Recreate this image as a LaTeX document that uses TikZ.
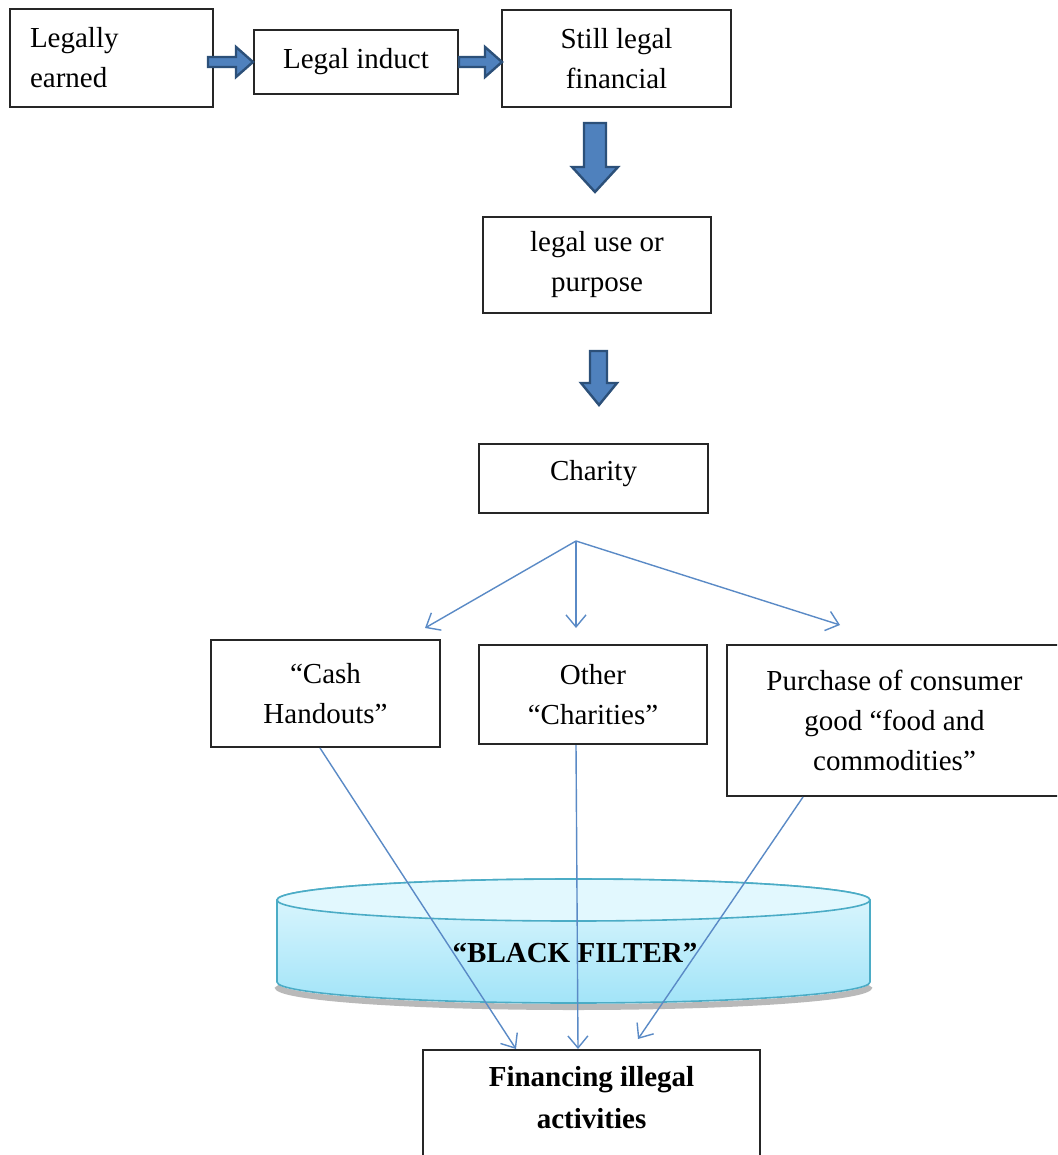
\documentclass[tikz,border=0pt]{standalone}
\usepackage{fontspec}
\setmainfont{Liberation Serif}
\usetikzlibrary{arrows.meta,calc}
\definecolor{arrdark}{HTML}{2C5079}
\definecolor{arrfill}{HTML}{4F81BD}
\definecolor{linkblue}{HTML}{5A8AC6}
\definecolor{cyltop}{HTML}{E2F8FE}
\definecolor{cylbot}{HTML}{A2E4F8}
\definecolor{cyledge}{HTML}{4BACC6}
\tikzset{
  box/.style={draw=black!85, line width=1pt, fill=white, align=center, inner sep=0pt,
    font=\fontsize{14.5}{20}\selectfont},
  link/.style={draw=linkblue, line width=0.7pt, -{Straight Barb[length=6pt,width=10pt]}},
  blockarrow/.style={draw=arrdark, fill=arrfill, line width=1.2pt, line join=miter},
}
\begin{document}
\begin{tikzpicture}[x=0.5pt,y=-0.5pt]
\clip (0,0) rectangle (1057,1155);
\fill[white] (0,0) rectangle (1057,1155);

% boxes
\node[box, minimum width=101.5pt, minimum height=49pt, align=left, text width=81.5pt] (b1) at (111.5,58) {Legally\\earned};
\node[box, minimum width=102pt, minimum height=32pt] (b2) at (356,62) {Legal induct};
\node[box, minimum width=114.5pt, minimum height=48.5pt] (b3) at (616.5,58.5) {Still legal\\financial};
\node[box, minimum width=114pt, minimum height=48pt] (b4) at (597,265) {legal use or\\purpose};
\node[box, minimum width=114.5pt, minimum height=34.5pt] (b5) at (593.5,478.5) {Charity\rule[-8pt]{0pt}{0pt}};
\node[box, minimum width=114.5pt, minimum height=53.5pt] (b6) at (325.5,693.5) {“Cash\\Handouts”};
\node[box, minimum width=114pt, minimum height=49.5pt] (b7) at (593,694.5) {Other\\“Charities”};
\node[box, minimum width=167.5pt, minimum height=75.5pt] (b8) at (894.5,720.5) {Purchase of consumer\\good “food and\\commodities”};

% block arrows
\path[blockarrow] ($(b1.east |- b2.west)+(-6,-5)$) -- ($(b2.west)+(-17,-5)$) -- ($(b2.west)+(-17,-15)$)
  -- ($(b2.west)+(0,0)$) -- ($(b2.west)+(-17,15)$) -- ($(b2.west)+(-17,5)$) -- ($(b1.east |- b2.west)+(-6,5)$) -- cycle;
\path[blockarrow] ($(b2.east)+(0,-5)$) -- ($(b3.west |- b2.east)+(-16,-5)$) -- ($(b3.west |- b2.east)+(-16,-15)$)
  -- ($(b3.west |- b2.east)+(1,0)$) -- ($(b3.west |- b2.east)+(-16,15)$) -- ($(b3.west |- b2.east)+(-16,5)$) -- ($(b2.east)+(0,5)$) -- cycle;
\path[blockarrow] (584,123) -- (606,123) -- (606,167) -- (618,167) -- (595,192) -- (572,167) -- (584,167) -- cycle;
\path[blockarrow] (590,351) -- (607,351) -- (607,383) -- (617,383) -- (599,405) -- (581,383) -- (590,383) -- cycle;

% branches from charity
\coordinate (br) at (576,541);
\coordinate (e1) at (425,628);
\coordinate (e2) at (576,628);
\coordinate (e3) at (840,625);
\draw[link] (br) -- (e1);
\draw[link] (br) -- (e2);
\draw[link] (br) -- (e3);

% filter cylinder
\draw[gray!55, line width=3pt] (277,986) arc[start angle=180, end angle=0, x radius=296.5, y radius=21];
\shade[top color=cyltop, bottom color=cylbot, draw=cyledge, line width=0.8pt]
  (277,900) -- (277,982) arc[start angle=180, end angle=0, x radius=296.5, y radius=21]
  -- (870,900) arc[start angle=0, end angle=-180, x radius=296.5, y radius=21] -- cycle;
\draw[cyledge, line width=0.8pt, fill=cyltop] (573.5,900) ellipse[x radius=296.5, y radius=21];
\node[font=\bfseries\fontsize{14.5}{18}\selectfont] (bf) at (575,953) {“BLACK FILTER”};

% bottom box
\node[box, minimum width=168.5pt, minimum height=57.5pt, font=\bfseries\fontsize{14.5}{21}\selectfont] (b9) at (591.5,1107.5) {Financing illegal\\activities\rule[-10pt]{0pt}{0pt}};

% lines to bottom box
\coordinate (s6) at ($(b6.south)+(-5.5,0)$);
\coordinate (s7) at ($(b7.south)+(-17,0)$);
\coordinate (s8) at ($(b8.south)+(-91.5,0)$);
\coordinate (t6) at ($(b9.north)+(-75.5,0)$);
\coordinate (t7) at ($(b9.north)+(-13.5,0)$);
\coordinate (t8) at ($(b9.north)+(46.5,-10)$);
\draw[link] (s6) -- (t6);
\draw[link] (s7) -- (t7);
\draw[link] (s8) -- (t8);
\end{tikzpicture}
\end{document}
